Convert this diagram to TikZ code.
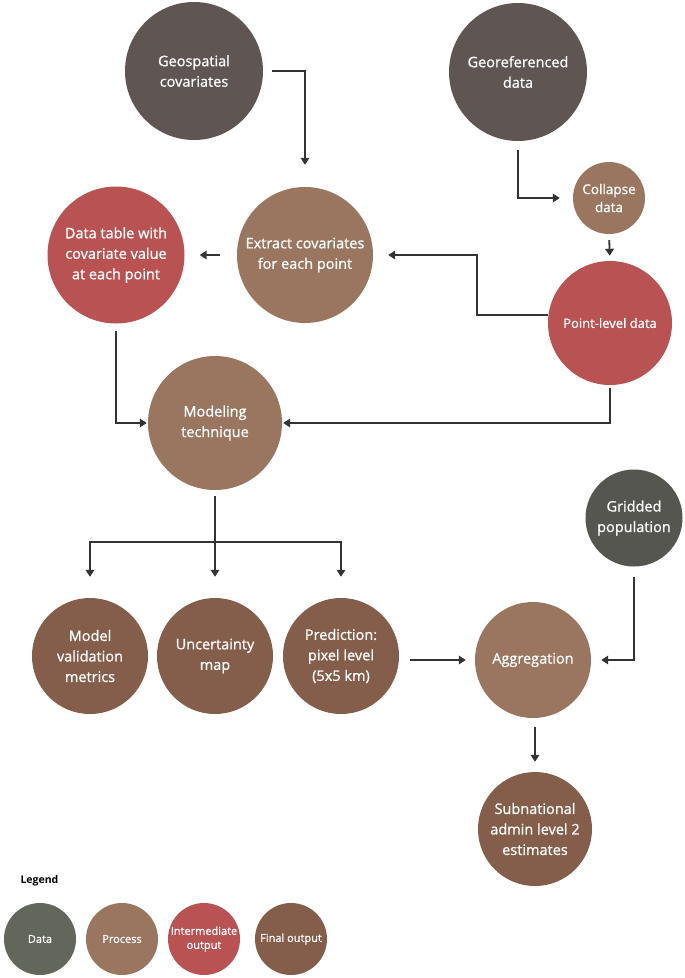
\documentclass[tikz,border=0pt]{standalone}
\usepackage{fontspec}
\setmainfont{Open Sans}
\newfontfamily\sbfont{Open Sans}[FakeBold=0.9]
\usetikzlibrary{arrows.meta}
\definecolor{cData}{HTML}{5F5654}
\definecolor{cGrid}{HTML}{555650}
\definecolor{cLegData}{HTML}{63665A}
\definecolor{cProc}{HTML}{9A7661}
\definecolor{cInter}{HTML}{B95353}
\definecolor{cFinal}{HTML}{855E4B}
\definecolor{cLine}{HTML}{333333}
\tikzset{
  bubble/.style={circle, inner sep=0pt, text=white, align=center,
    font=\sbfont\fontsize{14.5}{20.5}\selectfont},
  conn/.style={draw=cLine, line width=1.8pt,
    -{Triangle[length=7pt,width=8.5pt]}},
  plainconn/.style={draw=cLine, line width=1.8pt},
  legbubble/.style={circle, inner sep=0pt, text=white, align=center,
    minimum size=72pt, font=\sbfont\fontsize{11}{14}\selectfont},
}
\begin{document}
\begin{tikzpicture}[x=1pt,y=-1pt]
\useasboundingbox (0,0) rectangle (685,978);
\fill[white] (0,0) rectangle (685,978);

% nodes
\node[bubble, fill=cData, minimum size=138pt] (geo) at (194,71) {Geospatial\\covariates};
\node[bubble, fill=cData, minimum size=138pt] (georef) at (518,72) {Georeferenced\\data};
\node[bubble, fill=cProc, minimum size=72pt, font=\sbfont\fontsize{13.5}{18}\selectfont] (collapse) at (609,198) {Collapse\\data};
\node[bubble, fill=cProc, minimum size=136pt] (ext) at (305,255) {Extract covariates\\for each point};
\node[bubble, fill=cInter, minimum size=137pt] (dt) at (116,255) {Data table with\\covariate value\\at each point};
\node[bubble, fill=cInter, minimum size=124pt, font=\sbfont\fontsize{13}{17}\selectfont] (pt) at (610,323) {Point-level data};
\node[bubble, fill=cProc, minimum size=134pt] (model) at (215,423) {Modeling\\technique};
\node[bubble, fill=cFinal, minimum size=116pt] (mv) at (90,656) {Model\\validation\\metrics};
\node[bubble, fill=cFinal, minimum size=116pt] (unc) at (215,656) {Uncertainty\\map};
\node[bubble, fill=cFinal, minimum size=116pt] (pred) at (341,656) {Prediction:\\pixel level\\(5x5 km)};
\node[bubble, fill=cProc, minimum size=116pt] (agg) at (533,660) {Aggregation};
\node[bubble, fill=cGrid, minimum size=97pt] (grid) at (634,518) {Gridded\\population};
\node[bubble, fill=cFinal, minimum size=114pt] (sub) at (535,829) {Subnational\\admin level 2\\estimates};

% legend
\node[anchor=west, text=black, font=\bfseries\fontsize{10.5}{12}\selectfont] (leg) at (17,881) {Legend};
\node[legbubble, fill=cLegData] (lData) at (40,939) {Data};
\node[legbubble, fill=cProc] (lProc) at (122,939) {Process};
\node[legbubble, fill=cInter] (lInter) at (204,939) {Intermediate\\output};
\node[legbubble, fill=cFinal] (lFinal) at (291,939) {Final output};

% connectors
\draw[conn, shorten <=9pt, shorten >=22pt] (geo.east) -| (ext.north);
\draw[conn, shorten <=9pt, shorten >=13pt] (georef.south) |- (collapse.west);
\draw[conn, shorten <=6pt, shorten >=5pt] (collapse.south) -- (pt.north);
\coordinate (ptL) at (477,315);
\draw[conn, shorten >=15pt] ([yshift=8pt]pt.west) -- (ptL) |- (ext.east);
\draw[conn, shorten <=17pt, shorten >=15pt] (ext.west) -- (dt.east);
\draw[conn, shorten <=7pt, shorten >=1pt] (dt.south) |- (model.west);
\draw[conn, shorten <=3pt, shorten >=1pt] (pt.south) |- (model.east);
\coordinate (br) at (215,542);
\draw[plainconn, shorten <=6pt] (model.south) -- (br);
\draw[conn, shorten >=21pt] (br) -| (mv.north);
\draw[conn, shorten >=21pt] (br) -- (unc.north);
\draw[conn, shorten >=21pt] (br) -| (pred.north);
\draw[conn, shorten <=11pt, shorten >=9pt] (pred.east |- agg.west) -- (agg.west);
\draw[conn, shorten <=10pt, shorten >=10pt] (grid.south) |- (agg.east);
\draw[conn, shorten <=9pt, shorten >=10pt] (agg.south -| sub.north) -- (sub.north);
\end{tikzpicture}
\end{document}
